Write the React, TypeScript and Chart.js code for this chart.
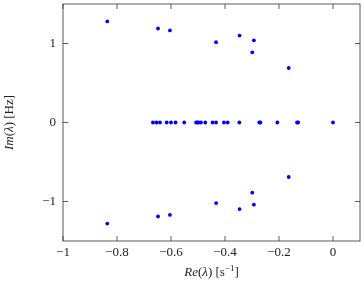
import React, { useEffect, useRef } from "react";
import { Chart, registerables } from "chart.js";
Chart.register(...registerables);

// Real eigenvalues (on the real axis, Im = 0)
const realEigRe = [
  -0.667, -0.654, -0.641, -0.616, -0.6, -0.583, -0.551, -0.507, -0.502, -0.498,
  -0.489, -0.473, -0.446, -0.433, -0.404, -0.39, -0.347, -0.273, -0.269, -0.206,
  -0.133, -0.129, 0,
];
const realEigIm = realEigRe.map(() => 0);

// Complex eigenvalues (conjugate pairs listed explicitly)
const complexEigRe = [
  -0.836, -0.648, -0.604, -0.433, -0.346, -0.293, -0.299, -0.164,
  -0.836, -0.648, -0.604, -0.433, -0.346, -0.293, -0.299, -0.164,
];
const complexEigIm = [
  1.279, 1.19, 1.166, 1.016, 1.1, 1.04, 0.888, 0.69,
  -1.279, -1.19, -1.17, -1.02, -1.096, -1.04, -0.888, -0.69,
];

const xTicks = [-1, -0.8, -0.6, -0.4, -0.2, 0];
const yTicks = [-1, 0, 1];
const xMin = -1, xMax = 0.1;
const yMin = -1.5, yMax = 1.5;

const SERIF = "Liberation Serif, serif";
const fmt = (v: number) => (v < 0 ? "\u2212" + String(Math.abs(v)) : String(v));

type Part = { t: string; italic?: boolean; size?: number; dy?: number };

function drawRich(ctx: CanvasRenderingContext2D, parts: Part[], cx: number, cy: number, rot: number) {
  ctx.save();
  ctx.translate(cx, cy);
  ctx.rotate(rot);
  ctx.textBaseline = "alphabetic";
  ctx.textAlign = "left";
  const fontOf = (p: Part) => `${p.italic ? "italic " : ""}${p.size ?? 13}px ${SERIF}`;
  let total = 0;
  for (const p of parts) { ctx.font = fontOf(p); total += ctx.measureText(p.t).width; }
  let x = -total / 2;
  for (const p of parts) {
    ctx.font = fontOf(p);
    ctx.fillText(p.t, x, p.dy ?? 0);
    x += ctx.measureText(p.t).width;
  }
  ctx.restore();
}

const framePlugin = {
  id: "frameTicks",
  afterDraw(chart: any) {
    const { ctx, chartArea, scales } = chart;
    const { left, right, top, bottom } = chartArea;
    const xs = scales.x, ys = scales.y;
    ctx.save();
    ctx.strokeStyle = "#333";
    ctx.lineWidth = 0.8;
    ctx.strokeRect(left, top, right - left, bottom - top);
    const tl = 5;
    ctx.beginPath();
    for (const v of xTicks) {
      const px = xs.getPixelForValue(v);
      ctx.moveTo(px, bottom); ctx.lineTo(px, bottom - tl);
      ctx.moveTo(px, top); ctx.lineTo(px, top + tl);
    }
    for (const v of yTicks) {
      const py = ys.getPixelForValue(v);
      ctx.moveTo(left, py); ctx.lineTo(left + tl, py);
      ctx.moveTo(right, py); ctx.lineTo(right - tl, py);
    }
    ctx.stroke();
    ctx.fillStyle = "#222";
    drawRich(ctx, [
      { t: "Re", italic: true }, { t: "(" }, { t: "λ", italic: true }, { t: ")" },
      { t: " [s" }, { t: "\u22121", size: 9, dy: -5 }, { t: "]" },
    ], (left + right) / 2, 276, 0);
    drawRich(ctx, [
      { t: "Im", italic: true }, { t: "(" }, { t: "λ", italic: true }, { t: ")" },
      { t: " [Hz]" },
    ], 13, (top + bottom) / 2, -Math.PI / 2);
    ctx.restore();
  },
};

export default function App() {
  const ref = useRef<HTMLCanvasElement | null>(null);
  useEffect(() => {
    document.body.style.margin = "0";
    if (!ref.current) return;
    const chart = new Chart(ref.current, {
      type: "scatter",
      data: {
        datasets: [
          {
            data: realEigRe.map((x, i) => ({ x, y: realEigIm[i] })),
            backgroundColor: "rgb(0,0,255)",
            borderWidth: 0,
            pointRadius: 1.9,
          },
          {
            data: complexEigRe.map((x, i) => ({ x, y: complexEigIm[i] })),
            backgroundColor: "rgb(0,0,255)",
            borderWidth: 0,
            pointRadius: 1.9,
          },
        ],
      },
      options: {
        responsive: false,
        animation: false,
        layout: { padding: { top: 3, right: 3, left: 0, bottom: 0 } },
        plugins: { legend: { display: false }, tooltip: { enabled: false } },
        scales: {
          x: {
            type: "linear",
            min: xMin,
            max: xMax,
            grid: { display: false, drawTicks: false },
            border: { display: false },
            afterBuildTicks: (s: any) => { s.ticks = xTicks.map((v) => ({ value: v })); },
            afterFit: (s: any) => { s.height = 40; s.paddingLeft = 0; s.paddingRight = 0; },
            ticks: {
              padding: 4,
              color: "#222",
              font: { family: SERIF, size: 13 },
              maxRotation: 0,
              callback: (v: any) => fmt(Number(v)),
            },
          },
          y: {
            type: "linear",
            min: yMin,
            max: yMax,
            grid: { display: false, drawTicks: false },
            border: { display: false },
            afterBuildTicks: (s: any) => { s.ticks = yTicks.map((v) => ({ value: v })); },
            afterFit: (s: any) => { s.width = 63; s.paddingTop = 0; s.paddingBottom = 0; },
            ticks: {
              padding: 7,
              color: "#222",
              font: { family: SERIF, size: 13 },
              callback: (v: any) => fmt(Number(v)),
            },
          },
        },
      },
      plugins: [framePlugin],
    });
    return () => chart.destroy();
  }, []);
  return (
    <div style={{ width: 364, height: 281 }}>
      <canvas ref={ref} width={364} height={281} style={{ display: "block" }} />
    </div>
  );
}
